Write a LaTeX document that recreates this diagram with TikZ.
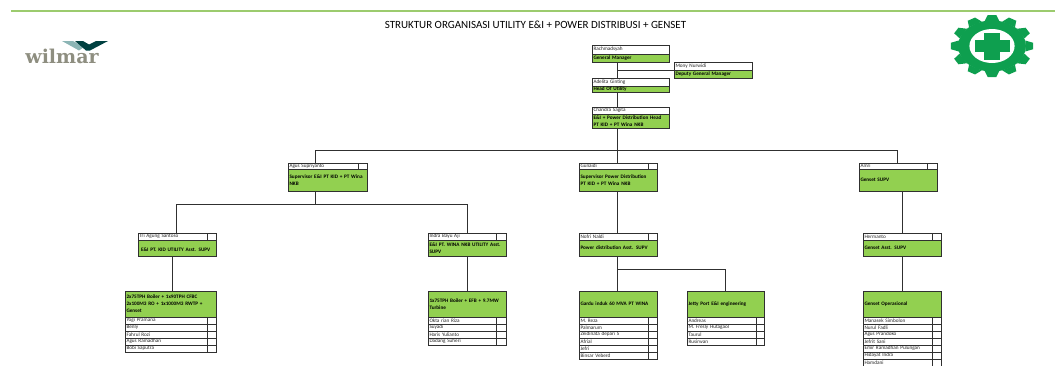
\documentclass[tikz,border=0pt]{standalone}
\usepackage{fontspec}
\setmainfont{Carlito}
\newfontfamily\logofont{DejaVu Serif}
\usetikzlibrary{positioning}

\definecolor{cardgreen}{HTML}{92D050}
\definecolor{rulegreen}{HTML}{9CCB6E}
\definecolor{geargreen}{HTML}{0E9F4F}
\definecolor{linegray}{HTML}{303030}
\definecolor{logogray}{HTML}{8E8E80}

\tikzset{
  cell/.style={draw=linegray,line width=1pt,anchor=north west,inner xsep=1pt,inner ysep=0pt,outer sep=0pt,
    align=left,font=\fontsize{5.2}{7}\selectfont},
  namebox/.style={cell,fill=white,text=black!85},
  rolebox/.style={cell,fill=cardgreen,font=\fontsize{5.2}{7}\selectfont\bfseries},
  link/.style={draw=linegray,line width=1pt},
}

% name cell with the small empty cell on its right
\newcommand{\namerow}[6]{%
  \node[namebox,minimum width=#4pt-#5pt,text width=#4pt-#5pt-3pt,minimum height=#6pt] (#1) at (#2) {#3};
  \node[namebox,minimum width=#5pt,minimum height=#6pt,right=0pt of #1] (#1cell) {};
}

\begin{document}
\begin{tikzpicture}[x=1pt,y=-1pt]
\useasboundingbox (0,0) rectangle (1055,365);

% heading
\draw[rulegreen,line width=1.2pt] (11,11) -- (1055,11);
\node[font=\fontsize{11}{13}\selectfont] (title) at (535.5,25) {STRUKTUR ORGANISASI UTILITY E\&I + POWER DISTRIBUSI + GENSET};

% wilmar logo
\node[font=\logofont\bfseries\fontsize{19}{19}\selectfont,text=logogray,inner sep=0pt] (logo) at (62,56.5) {wilmar};
\fill[black!30!teal!45!white] (62,41) -- (73,41) -- (84,47) -- (79,50.5) -- cycle;
\fill[teal!50!black] (75,41) -- (83,41) -- (89,44.5) -- (96,41) -- (108,41) -- (90,50.5) -- (86,50.5) -- cycle;

% safety gear
\begin{scope}[shift={(992,46)},xscale=1.33]
  \fill[geargreen] (0,0) circle (25.5);
  \foreach \a in {0,30,...,330}
    \fill[geargreen,rotate=\a] (-5.5,-25) -- (-3.2,-31) -- (3.2,-31) -- (5.5,-25) -- cycle;
  \fill[white] (0,0) circle (17);
\end{scope}
\fill[geargreen] (984,32.5) rectangle (1000,59.5);
\fill[geargreen] (975,40) rectangle (1010,52);

% top of the chart
\node[namebox,minimum width=77pt,text width=74pt,minimum height=9pt] (gm) at (592,45) {Rachmadsyah};
\node[rolebox,minimum width=77pt,text width=74pt,minimum height=8pt] (gmrole) at (592,54) {General Manager};
\node[namebox,minimum width=78pt,text width=75pt,minimum height=8pt] (dgm) at (674,62) {Mony Nurwidi};
\node[rolebox,minimum width=78pt,text width=75pt,minimum height=8pt] (dgmrole) at (674,70) {Deputy General Manager};
\node[namebox,minimum width=77pt,text width=74pt,minimum height=8pt] (hou) at (592,78) {Adelita Ginting};
\node[rolebox,minimum width=77pt,text width=74pt,minimum height=6pt] (hourole) at (592,86) {Head Of Utility};
\node[namebox,minimum width=77pt,text width=74pt,minimum height=7pt] (head) at (592,107) {Chandra Sagita};
\node[rolebox,minimum width=77pt,text width=74pt,minimum height=14pt] (headrole) at (592,114) {E\&I + Power Distribution Head\\PT KID + PT Wina NKB};

% supervisors
\namerow{supa}{288,163}{Agus Supriyanto}{79}{9}{6}
\node[rolebox,minimum width=79pt,text width=76pt,minimum height=22pt] (suparole) at (288,169) {Supervisor E\&I PT KID + PT Wina\\NKB};
\namerow{supb}{579,163}{Gunaidi}{78}{9}{6}
\node[rolebox,minimum width=78pt,text width=75pt,minimum height=22pt] (supbrole) at (579,169) {Supervisor Power Distribution\\PT KID + PT Wina NKB};
\namerow{supc}{859,163}{Amri}{78}{10}{6}
\node[rolebox,minimum width=78pt,text width=75pt,minimum height=22pt] (supcrole) at (859,169) {Genset SUPV};

% assistants
\namerow{asta}{138,233}{Tri Agung Santoso}{78}{9}{7}
\node[rolebox,minimum width=78pt,text width=75pt,minimum height=16pt] (astarole) at (138,240) {\mbox{}\\\hspace*{1.5pt}E\&I PT. KID UTILITY\ Asst. SUPV};
\namerow{astb}{428,233}{Indra Bayu Aji}{78}{10}{7}
\node[rolebox,minimum width=78pt,text width=75pt,minimum height=16pt] (astbrole) at (428,240) {E\&I PT. WINA NKB UTILITY Asst.\\SUPV};
\namerow{astc}{579,233}{Nofri Naldi}{78}{9}{7}
\node[rolebox,minimum width=78pt,text width=75pt,minimum height=16pt] (astcrole) at (579,240) {Power distribution Asst. SUPV};
\namerow{astd}{863,233}{Hermanto}{78}{9}{7}
\node[rolebox,minimum width=78pt,text width=75pt,minimum height=16pt] (astdrole) at (863,240) {Genset Asst. SUPV};

% teams
\node[rolebox,minimum width=91pt,text width=88pt,minimum height=26pt] (teama) at (125,291) {2x75TPH Boiler + 1x90TPH CFBC\\2x100M3 RO + 1x1000M3 RWTP +\\Genset};
\foreach \person [count=\i from 0] in {Yogi Pramana,Benly,Fahrul Rozi,Agus Ramadhan,Bobi Saputra}
  {\namerow{teama\i}{125,{317+7*\i}}{\person}{91}{9}{7}}
\node[rolebox,minimum width=78pt,text width=75pt,minimum height=26pt] (teamb) at (428,291) {1x75TPH Boiler + EFB + 9.7MW\\Turbine};
\foreach \person [count=\i from 0] in {Okta rian Riza,Suyadi,Haris Yulianto,Dadang Suheri}
  {\namerow{teamb\i}{428,{317+7*\i}}{\person}{78}{10}{7}}
\node[rolebox,minimum width=78pt,text width=75pt,minimum height=26pt] (teamc) at (579,291) {Gardu induk 60 MVA PT WINA};
\foreach \person [count=\i from 0] in {M. Reza,Palmarum,Zeidinata depari S,Afrial,Jefri,Binsar Veberd}
  {\namerow{teamc\i}{579,{317+7*\i}}{\person}{78}{9}{7}}
\node[rolebox,minimum width=77pt,text width=74pt,minimum height=26pt] (teamd) at (687,291) {Jetty Port E\&I engineering};
\foreach \person [count=\i from 0] in {Andreas,M. Fresly Hutagaol,Taurul,Rusirwan}
  {\namerow{teamd\i}{687,{317+7*\i}}{\person}{77}{8}{7}}
\node[rolebox,minimum width=78pt,text width=75pt,minimum height=26pt] (teame) at (863,291) {Genset Operasional};
\foreach \person [count=\i from 0] in {Manasek Simbolon,Nurul Fadli,Agus Prandoko,Jefrit Sani,Emir Ramadhan Pulungan,Hidayat Indra,Hamdani}
  {\namerow{teame\i}{863,{317+7*\i}}{\person}{78}{9}{7}}

% junctions
\coordinate (trunk) at (617,150);
\coordinate (busl) at (315,150);
\coordinate (busr) at (897,150);
\coordinate (bush) at (315,204);
\coordinate (forka) at (176,204);
\coordinate (forkb) at (467,204);
\coordinate (fork) at (617,269);
\coordinate (forkd) at (725,269);
\coordinate (dropa) at (172,256);
\coordinate (dropb) at (467,256);
\coordinate (dropd) at (902,191);

% connectors
\draw[link] (gmrole.south -| trunk) -- (hou.north -| trunk);
\draw[link] (dgmrole.north west) -- (dgmrole.north west -| trunk);
\draw[link] (hourole.south -| trunk) -- (head.north -| trunk);
\draw[link] (headrole.south -| trunk) -- (trunk);
\draw[link] (busl) -- (busr);
\draw[link] (busl) -- (supa.north -| busl);
\draw[link] (trunk) -- (supb.north -| trunk);
\draw[link] (busr) -- (supc.north -| busr);
\draw[link] (suparole.south -| bush) -- (bush);
\draw[link] (forka) -- (forkb);
\draw[link] (forka) -- (asta.north -| forka);
\draw[link] (forkb) -- (astb.north -| forkb);
\draw[link] (supbrole.south -| trunk) -- (astc.north -| trunk);
\draw[link] (dropd) -- (astd.north -| dropd);
\draw[link] (dropa) -- (teama.north -| dropa);
\draw[link] (dropb) -- (teamb.north -| dropb);
\draw[link] (astcrole.south -| fork) -- (teamc.north -| fork);
\draw[link] (fork) -- (forkd) -- (teamd.north -| forkd);
\draw[link] (astdrole.south -| dropd) -- (teame.north -| dropd);
\end{tikzpicture}
\end{document}
